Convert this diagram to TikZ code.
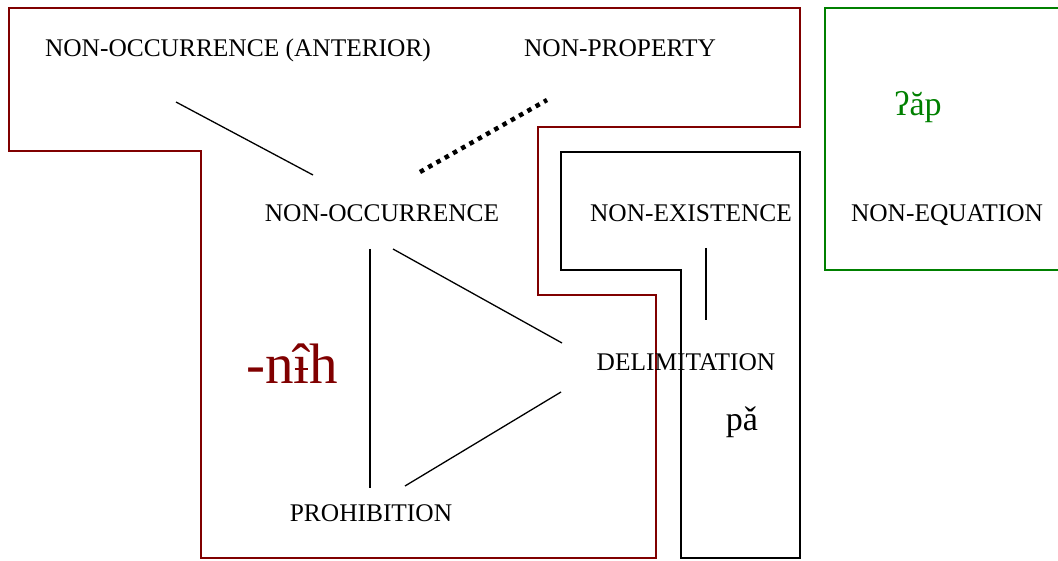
\documentclass[tikz,border=0pt]{standalone}
\usepackage{fontspec}
\setmainfont{Liberation Serif}
\definecolor{nihred}{RGB}{128,0,0}
\definecolor{apgreen}{RGB}{0,128,0}
\newcommand{\barihat}{{\ooalign{î\cr\hidewidth\rule[0.25em]{0.24em}{0.035em}\hidewidth}}}

\begin{document}
\begin{tikzpicture}[x=1pt,y=-1pt,
					line join=miter,
					label node/.style={font=\fontsize{25.4}{30}\selectfont,inner sep=0pt},
					marker/.style={inner sep=0pt},
					region/.style={line width=2pt},
					link/.style={line width=1.3pt},
					weak link/.style={line width=4.5pt,dash pattern=on 4.5pt off 5pt}]

  \useasboundingbox (0,0) rectangle (1058,561);

  % regions
  \draw[region,draw=nihred] (9,8) -- (800,8) -- (800,127) -- (538,127) -- (538,295)
    -- (656,295) -- (656,558) -- (201,558) -- (201,151) -- (9,151) -- cycle;
  \draw[region] (561,152) -- (800,152) -- (800,558) -- (681,558) -- (681,270)
    -- (561,270) -- cycle;
  \draw[region,draw=apgreen] (1064,8) -- (825,8) -- (825,270) -- (1064,270);

  % functions
  \node[label node] (ant) at (238,50) {NON-OCCURRENCE (ANTERIOR)};
  \node[label node] (prop) at (620,48) {NON-PROPERTY};
  \node[label node] (occ) at (382,213) {NON-OCCURRENCE};
  \node[label node] (exist) at (691,213) {NON-EXISTENCE};
  \node[label node] (equ) at (947,215) {NON-EQUATION};
  \node[label node] (delim) at (686,362) {DELIMITATION};
  \node[label node] (prohib) at (371,513) {PROHIBITION};

  % markers
  \node[marker,text=nihred,font=\fontsize{57}{62}\selectfont] (nih) at (292,364) {-n\barihat h};
  \node[marker,text=apgreen,font=\fontsize{34}{40}\selectfont] (ap) at (918,107) {ʔăp};
  \node[marker,font=\fontsize{34}{40}\selectfont] (pa) at (742,422) {pǎ};

  % link ends
  \coordinate (ant end) at (176,102);
  \coordinate (occ nw) at (313,175);
  \coordinate (prop end) at (547,100);
  \coordinate (occ ne) at (420,172);
  \coordinate (occ sl) at (370,249);
  \coordinate (occ sr) at (393,249);
  \coordinate (delim wu) at (562,343);
  \coordinate (delim wd) at (561,392);
  \coordinate (prohib n) at (370,488);
  \coordinate (prohib ne) at (405,486);
  \coordinate (exist s) at (706,248);
  \coordinate (delim n) at (706,320);

  \path[link]
    (ant end) edge (occ nw)
    (occ sr) edge (delim wu)
    (occ sl) edge (prohib n)
    (prohib ne) edge (delim wd)
    (exist s) edge (delim n);
  \draw[weak link] (occ ne) -- (prop end);
\end{tikzpicture}
\end{document}
